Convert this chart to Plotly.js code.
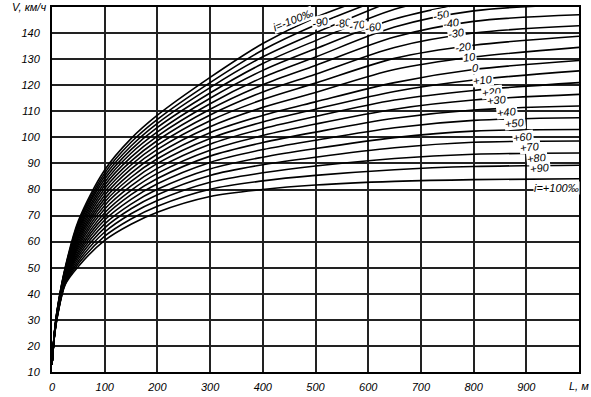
<!DOCTYPE html>
<html><head><meta charset="utf-8">
<script src="https://cdn.plot.ly/plotly-3.0.1.min.js"></script>
<style>body{margin:0;background:#fff}#c{width:591px;height:397px}</style>
</head><body><div id="c"></div>
<script>
// Distance L, m (common sample positions)
const L = [0, 5, 10, 25, 50, 100, 150, 200, 300, 400, 500, 650, 800, 1000];
// Grade i, per mille
const grades = [-100, -90, -80, -70, -60, -50, -40, -30, -20, -10, 0, 10, 20, 30, 40, 50, 60, 70, 80, 90, 100];
// Speed V, km/h for each grade
const V_m100 = [13, 25.9, 34.0, 50.0, 68.0, 87.5, 99.5, 108.5, 123.0, 136.0, 146.0, 157.0];
const V_m90  = [13, 25.8, 33.9, 49.7, 67.2, 86.3, 98.1, 106.9, 121.0, 133.5, 143.1, 155.0];
const V_m80  = [13, 25.8, 33.7, 49.4, 66.5, 85.2, 96.7, 105.4, 119.1, 130.9, 140.1, 152.7];
const V_m70  = [13, 25.7, 33.6, 49.1, 65.7, 84.0, 95.3, 103.8, 117.0, 128.3, 137.1, 149.1, 156];
const V_m60  = [13, 25.6, 33.4, 48.8, 64.9, 82.8, 93.9, 102.1, 115.0, 125.7, 134.0, 145.4, 152];
const V_m50  = [13, 25.5, 33.3, 48.5, 64.1, 81.6, 92.4, 100.5, 112.9, 123.0, 130.8, 142.3, 148.5, 151];
const V_m40  = [13, 25.5, 33.1, 48.1, 63.3, 80.4, 90.9, 98.8, 110.8, 120.2, 127.6, 138.5, 144.5, 147];
const V_m30  = [13, 25.4, 33.0, 47.8, 62.4, 79.1, 89.4, 97.1, 108.6, 117.4, 124.2, 134.5, 140.0, 142.8];
const V_m20  = [13, 25.3, 32.8, 47.5, 61.6, 77.8, 87.9, 95.4, 106.4, 114.5, 120.8, 130.3, 135.3, 138.8];
const V_m10  = [13, 25.2, 32.7, 47.2, 60.8, 76.5, 86.3, 93.6, 104.1, 111.5, 117.2, 126.0, 130.8, 134.5];
const V_0    = [13, 25.2, 32.5, 46.9, 59.9, 75.2, 84.7, 91.8, 101.8, 108.4, 113.6, 121.0, 126.0, 129.5];
const V_p10  = [13, 25.1, 32.4, 46.5, 59.0, 73.9, 83.1, 90.0, 99.6, 105.9, 110.8, 117.6, 122.0, 125.5];
const V_p20  = [13, 25.0, 32.2, 46.2, 58.1, 72.5, 81.4, 88.1, 97.4, 103.3, 108.0, 114.3, 118.0, 121.0];
const V_p30  = [13, 24.9, 32.1, 45.9, 57.2, 71.1, 79.7, 86.2, 95.1, 100.7, 105.1, 110.8, 114.3, 116.5];
const V_p40  = [13, 24.9, 31.9, 45.5, 56.3, 69.7, 78.0, 84.2, 92.8, 98.0, 102.0, 107.3, 110.5, 112.0];
const V_p50  = [13, 24.8, 31.8, 45.2, 55.4, 68.3, 76.2, 82.2, 90.4, 95.3, 98.9, 103.7, 106.5, 107.5];
const V_p60  = [13, 24.7, 31.6, 44.9, 54.5, 66.8, 74.4, 80.1, 87.9, 92.4, 95.7, 99.9, 102.4, 103.0];
const V_p70  = [13, 24.6, 31.5, 44.5, 53.5, 65.3, 72.6, 78.0, 85.4, 89.5, 92.4, 96.0, 98.1, 98.6];
const V_p80  = [13, 24.6, 31.3, 44.2, 52.5, 63.7, 70.7, 75.8, 82.8, 86.4, 89.0, 91.9, 93.5, 94.0];
const V_p90  = [13, 24.5, 31.2, 43.8, 51.5, 62.1, 68.7, 73.6, 80.1, 83.3, 85.4, 87.6, 88.8, 89.3];
const V_p100 = [13, 24.4, 31.0, 43.5, 50.5, 60.5, 66.7, 71.3, 77.3, 80.0, 81.7, 83.1, 83.8, 84.1];
const series = [V_m100, V_m90, V_m80, V_m70, V_m60, V_m50, V_m40, V_m30, V_m20, V_m10, V_0,
  V_p10, V_p20, V_p30, V_p40, V_p50, V_p60, V_p70, V_p80, V_p90, V_p100];

// Curve labels (text, L, V, angle)
const labelText = ['i=-100‰', '-90', '-80', '-70', '-60', '-50', '-40', '-30', '-20', '10', '0',
  '+10', '+20', '+30', '+40', '+50', '+60', '+70', '+80', '+90', 'i=+100‰'];
const labelL = [457, 510, 553, 580, 610, 740, 759, 768, 780, 793, 803, 818, 835, 844, 863, 879, 894, 907, 920, 926, 958];
const labelV = [145, 144.3, 143.9, 143.1, 142.3, 146.9, 143.9, 140.0, 134.7, 130.8, 126.6, 122.0, 117.4, 114.3, 109.7, 105.5, 100.1, 96.3, 92.1, 88.3, 80.6];
const labelAngle = [-22, -12, -10, -10, -10, -10, -8, -8, -8, -6, 0, -6, -6, -6, -6, -6, -6, -6, -6, -6, 0];

const xTicks = [0, 100, 200, 300, 400, 500, 600, 700, 800, 900];
const yTicks = [10, 20, 30, 40, 50, 60, 70, 80, 90, 100, 110, 120, 130, 140];

const traces = series.map((v, k) => ({
  x: L.slice(0, v.length), y: v, type: 'scatter', mode: 'lines',
  name: 'i=' + grades[k], hoverinfo: 'skip',
  line: {color: '#000', width: 1.6, shape: 'spline', smoothing: 0.9}
}));

const fnt = {family: 'Liberation Sans, DejaVu Sans, sans-serif', size: 11, color: '#000', style: 'italic'};
const annotations = labelText.map((t, k) => ({
  x: labelL[k], y: labelV[k], xref: 'x', yref: 'y', text: t, showarrow: false,
  textangle: labelAngle[k], font: fnt, bgcolor: '#fff', borderpad: 0
}));
annotations.push({x: 0, y: 150, xref: 'paper', yref: 'y', xanchor: 'right', yanchor: 'middle', xshift: -4,
  text: 'V, км/ч', showarrow: false, font: fnt});
annotations.push({x: 1000, y: 0, xref: 'x', yref: 'paper', xanchor: 'center', yanchor: 'top', yshift: -6,
  text: 'L, м', showarrow: false, font: fnt});

const layout = {
  width: 591, height: 397, showlegend: false,
  paper_bgcolor: '#fff', plot_bgcolor: '#fff',
  margin: {l: 52, r: 12, t: 7, b: 25},
  xaxis: {range: [0, 1000], tickvals: xTicks, ticktext: xTicks.map(String), showgrid: true,
    gridcolor: '#222', gridwidth: 2, zeroline: false, showline: true, linecolor: '#000', linewidth: 2, mirror: true,
    ticks: 'outside', ticklen: 4, tickcolor: 'rgba(0,0,0,0)', tickfont: fnt},
  yaxis: {range: [10, 150], tickvals: yTicks, ticktext: yTicks.map(String), showgrid: true,
    gridcolor: '#222', gridwidth: 2, zeroline: false, showline: true, linecolor: '#000', linewidth: 2, mirror: true,
    ticks: 'outside', ticklen: 8, tickcolor: 'rgba(0,0,0,0)', tickfont: fnt},
  annotations: annotations
};
Plotly.newPlot('c', traces, layout, {staticPlot: true});
</script></body></html>
